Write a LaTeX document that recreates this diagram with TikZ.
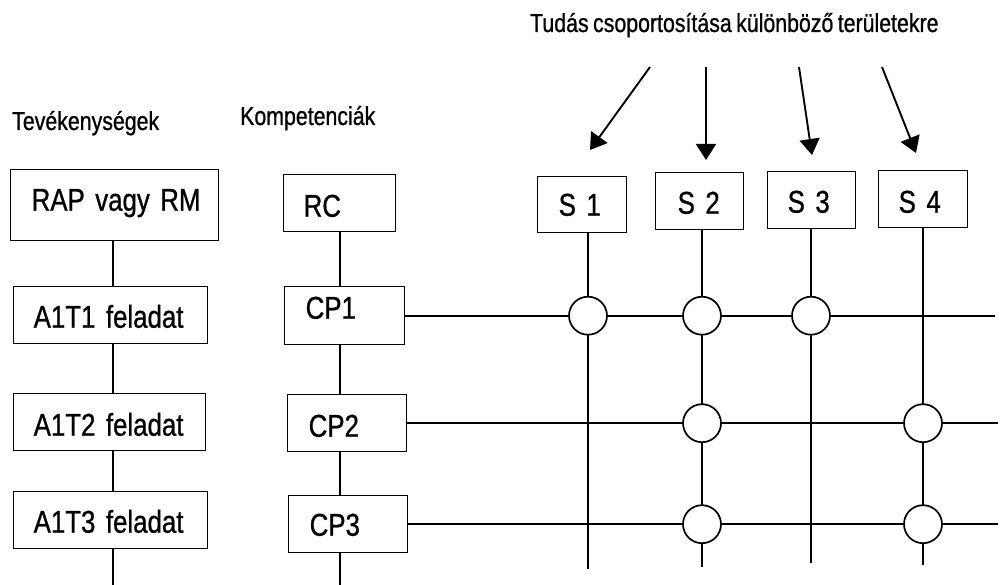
\documentclass[tikz,border=0pt]{standalone}
\usepackage{fontspec}
\setmainfont[FakeStretch=0.82,FakeBold=0.8,WordSpace=0.75]{Liberation Sans}
\usetikzlibrary{arrows.meta}
\begin{document}
\begin{tikzpicture}[x=1pt,y=-1pt,
  tbox/.style={draw, line width=1.4pt, rectangle, anchor=north west, inner ysep=0pt, align=left, font=\fontsize{31.5}{36}\selectfont},
  link/.style={line width=1.9pt},
  hit/.style={circle, draw, fill=white, line width=1.7pt, minimum size=38pt, inner sep=0pt},
  arr/.style={line width=1.9pt, -{Triangle[length=16pt,width=20pt]}},
  head/.style={anchor=base west, inner sep=0pt, font=\fontsize{26}{30}\selectfont}]
\useasboundingbox (0,0) rectangle (1001,585);

% headings
\node[head, font=\fontsize{26}{30}\selectfont] (title) at (530,32) {Tudás csoportosítása különböző területekre};
\node[head] (tev) at (12,130) {Tevékenységek};
\node[head] (komp) at (240,125) {Kompetenciák};

% left column
\node[tbox, inner xsep=21pt, text width=166pt, text height=41pt, text depth=30pt] (RAP) at (10,169) {\mbox{RAP vagy RM}};
\node[tbox, inner xsep=20pt, text width=154pt, text height=41pt, text depth=16pt] (A1T1) at (13,286) {\mbox{A1T1 feladat}};
\node[tbox, inner xsep=20pt, text width=152pt, text height=42pt, text depth=15pt] (A1T2) at (13,393) {\mbox{A1T2 feladat}};
\node[tbox, inner xsep=20pt, text width=154pt, text height=41pt, text depth=16pt] (A1T3) at (13,491) {\mbox{A1T3 feladat}};

% middle column
\node[tbox, inner xsep=20pt, text width=72pt, text height=42pt, text depth=15pt] (RC) at (283,174) {RC};
\node[tbox, inner xsep=21pt, text width=78pt, text height=32pt, text depth=26pt] (CP1) at (284,286) {CP1};
\node[tbox, inner xsep=21pt, text width=77pt, text height=42pt, text depth=15pt] (CP2) at (287,394) {CP2};
\node[tbox, inner xsep=21pt, text width=77pt, text height=40pt, text depth=17pt] (CP3) at (288,495) {CP3};

% S boxes
\node[tbox, inner xsep=21pt, text width=47pt, text height=39pt, text depth=17pt] (S1) at (537,176) {\mbox{S 1}};
\node[tbox, inner xsep=22pt, text width=44pt, text height=41pt, text depth=16pt] (S2) at (655,172) {\mbox{S 2}};
\node[tbox, inner xsep=20pt, text width=48pt, text height=41pt, text depth=16pt] (S3) at (767,171) {\mbox{S 3}};
\node[tbox, inner xsep=20pt, text width=49pt, text height=42pt, text depth=15pt] (S4) at (878,170) {\mbox{S 4}};

% free ends
\coordinate (lbot) at (113,585);
\coordinate (mbot) at (340,585);
\coordinate (s1b) at (588,569);
\coordinate (s2b) at (702,567);
\coordinate (s3b) at (811,563);
\coordinate (s4b) at (923,565);
\coordinate (r1e) at (995,315);
\coordinate (r2e) at (998,423);
\coordinate (r3e) at (998,523);
\coordinate (a1s) at (650,67);
\coordinate (a1e) at (590,150);
\coordinate (a2s) at (706,67);
\coordinate (a2e) at (706,160);
\coordinate (a3s) at (799,67);
\coordinate (a3e) at (812,155);
\coordinate (a4s) at (882,67);
\coordinate (a4e) at (916,153);

% vertical chains
\draw[link] (RAP.south -| lbot) -- (A1T1.north -| lbot)
            (A1T1.south -| lbot) -- (A1T2.north -| lbot)
            (A1T2.south -| lbot) -- (A1T3.north -| lbot)
            (A1T3.south -| lbot) -- (lbot);
\draw[link] (RC.south -| mbot) -- (CP1.north -| mbot)
            (CP1.south -| mbot) -- (CP2.north -| mbot)
            (CP2.south -| mbot) -- (CP3.north -| mbot)
            (CP3.south -| mbot) -- (mbot);

% grid
\draw[link] (CP1.east) -- (CP1.east -| r1e);
\draw[link] (CP2.east) -- (CP2.east -| r2e);
\draw[link] (CP3.east) -- (CP3.east -| r3e);
\draw[link] (S1.south -| s1b) -- (s1b);
\draw[link] (S2.south -| s2b) -- (s2b);
\draw[link] (S3.south -| s3b) -- (s3b);
\draw[link] (S4.south -| s4b) -- (s4b);

% intersections
\node[hit] (c11) at (CP1.east -| s1b) {};
\node[hit] (c12) at (CP1.east -| s2b) {};
\node[hit] (c13) at (CP1.east -| s3b) {};
\node[hit] (c22) at (CP2.east -| s2b) {};
\node[hit] (c24) at (CP2.east -| s4b) {};
\node[hit] (c32) at (CP3.east -| s2b) {};
\node[hit] (c34) at (CP3.east -| s4b) {};

% arrows
\draw[arr] (a1s) -- (a1e);
\draw[arr] (a2s) -- (a2e);
\draw[arr] (a3s) -- (a3e);
\draw[arr] (a4s) -- (a4e);
\end{tikzpicture}
\end{document}
